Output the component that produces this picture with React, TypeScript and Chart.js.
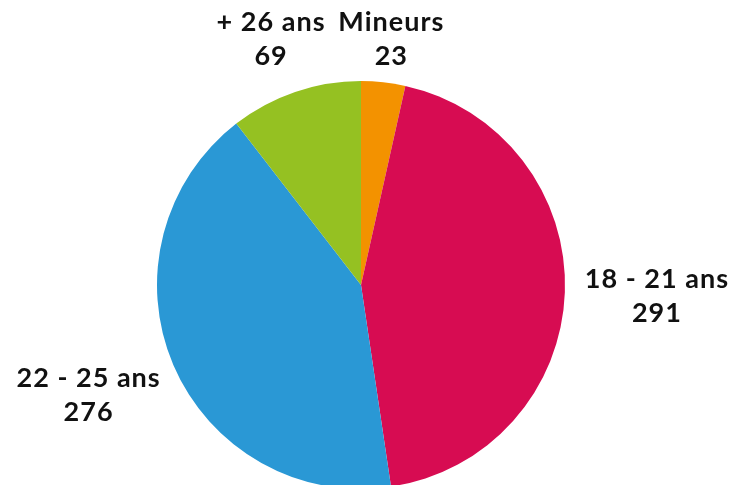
import React, { useEffect, useRef } from "react";
import { Chart, registerables } from "chart.js";

Chart.register(...registerables);

const categories: string[] = ["Mineurs", "18 - 21 ans", "22 - 25 ans", "+ 26 ans"];
const values: number[] = [23, 291, 276, 69];
const colors: string[] = ["#F39200", "#D70C52", "#2A98D5", "#95C122"];

const FONT = "bold 27px Lato";
const LETTER_SPACING = "1px";
const LINE_GAP = 34;
const CAP = 20;
const LABEL_DIST = 20;
const MIN_TOP = 11;

const outsideLabels = {
  id: "outsideLabels",
  afterDraw(chart: any) {
    const ctx = chart.ctx;
    const meta = chart.getDatasetMeta(0);
    ctx.save();
    ctx.font = FONT;
    try {
      (ctx as any).letterSpacing = LETTER_SPACING;
    } catch (e) {}
    ctx.fillStyle = "#111111";
    ctx.textAlign = "center";
    ctx.textBaseline = "alphabetic";
    meta.data.forEach((arc: any, i: number) => {
      const p = arc.getProps(["x", "y", "startAngle", "endAngle", "outerRadius"], true);
      const mid = (p.startAngle + p.endAngle) / 2;
      const dx = Math.cos(mid);
      const dy = Math.sin(mid);
      const line1 = categories[i];
      const line2 = String(values[i]);
      const w = Math.max(ctx.measureText(line1).width, ctx.measureText(line2).width);
      const h = CAP + LINE_GAP;
      const ax = p.x + (p.outerRadius + LABEL_DIST) * dx;
      const ay = p.y + (p.outerRadius + LABEL_DIST) * dy;
      const cx = ax + (dx * w) / 2;
      let top = ay + dy * h - h / 2;
      if (top < MIN_TOP) top = MIN_TOP;
      ctx.fillText(line1, cx, top + CAP);
      ctx.fillText(line2, cx, top + CAP + LINE_GAP);
    });
    ctx.restore();
  },
};

export default function App() {
  const ref = useRef<HTMLCanvasElement | null>(null);
  useEffect(() => {
    if (!ref.current) return;
    const chart = new Chart(ref.current, {
      type: "pie",
      data: {
        labels: categories,
        datasets: [
          {
            data: values,
            backgroundColor: colors,
            borderWidth: 0,
          },
        ],
      },
      options: {
        animation: false,
        responsive: true,
        maintainAspectRatio: false,
        layout: { padding: { top: 81, bottom: 11, left: 0, right: 9 } },
        plugins: {
          legend: { display: false },
          tooltip: { enabled: false },
        },
      },
      plugins: [outsideLabels],
    });
    return () => chart.destroy();
  }, []);
  return (
    <div
      style={{
        position: "fixed",
        left: 0,
        top: 0,
        width: 731,
        height: 485,
        overflow: "hidden",
        background: "#ffffff",
      }}
    >
      <div style={{ position: "relative", width: 731, height: 500 }}>
        <canvas ref={ref} />
      </div>
    </div>
  );
}
